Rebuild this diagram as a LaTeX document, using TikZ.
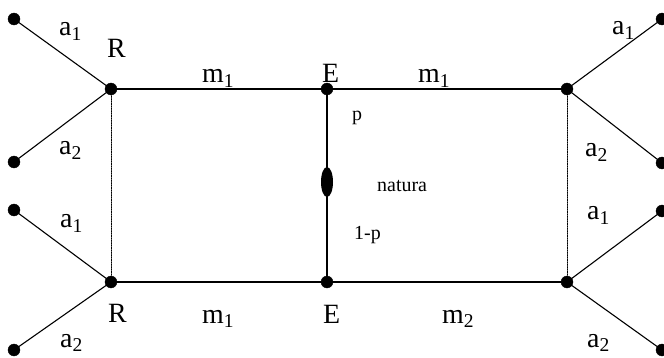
\documentclass[tikz,border=0pt]{standalone}
\usepackage{fontspec}
\setmainfont{Liberation Serif}
\usepackage{tikz}
\usepackage{tkz-euclide}

\begin{document}
\begin{tikzpicture}[x=10bp,y=10bp,
    big/.style={font=\fontsize{28}{28}\selectfont, anchor=base west, inner sep=0pt},
    small/.style={font=\fontsize{20}{20}\selectfont, anchor=base west, inner sep=0pt}]
            \useasboundingbox (0,0) rectangle (66.4,35.8);
            \tkzDefPoints{1.4/33.9/A1, 1.4/19.6/A2, 11.1/26.9/R1, 1.4/14.8/A3, 1.4/0.8/A4, 11.1/7.6/R2}
            \tkzDefPoints{32.7/26.9/E1, 32.7/7.6/E2, 32.7/17.6/N}
            \tkzDefPoints{56.7/26.9/S1, 56.7/7.6/S2, 66.2/33.9/B1, 66.2/19.5/B2, 66.2/14.7/B3, 66.2/0.8/B4}
            \tkzDrawSegments[black, line width=1.1bp](A1,R1 A2,R1 R1,E1 E1,S1 S1,B1 S1,B2)
            \tkzDrawSegments[black, line width=1.1bp](A3,R2 A4,R2 R2,E2 E2,S2 S2,B3 S2,B4 E1,E2)
            \tkzDrawSegments[black, line width=1bp, dash pattern=on 1.2bp off 1.2bp](R1,R2 S1,S2)
            \fill (N) ellipse [x radius=6bp, y radius=15bp];
            \tkzDrawPoints[fill=black, size=12](A1,A2,A3,A4,R1,R2,E1,E2,S1,S2,B1,B2,B3,B4)
            % players and moves
            \node[big] (la1) at (5.9,32.2) {a\textsubscript{1}};
            \node[big] (la2) at (5.9,20.3) {a\textsubscript{2}};
            \node[big] (la3) at (6.0,13.0) {a\textsubscript{1}};
            \node[big] (la4) at (6.0,1.1) {a\textsubscript{2}};
            \node[big] (lr1) at (10.7,30.0) {R};
            \node[big] (lr2) at (10.8,3.6) {R};
            \node[big] (lm1) at (20.2,27.5) {m\textsubscript{1}};
            \node[big] (le1) at (32.2,27.5) {E};
            \node[big] (lm2) at (41.8,27.5) {m\textsubscript{1}};
            \node[big] (lm3) at (20.2,3.5) {m\textsubscript{1}};
            \node[big] (le2) at (32.3,3.5) {E};
            \node[big] (lm4) at (44.2,3.5) {m\textsubscript{2}};
            \node[big] (lb1) at (61.2,32.3) {a\textsubscript{1}};
            \node[big] (lb2) at (58.5,20.1) {a\textsubscript{2}};
            \node[big] (lb3) at (58.7,13.8) {a\textsubscript{1}};
            \node[big] (lb4) at (58.7,1.1) {a\textsubscript{2}};
            % nature
            \node[small] (lp) at (35.2,23.7) {p};
            \node[small] (lnat) at (37.7,16.6) {natura};
            \node[small] (lq) at (35.4,11.8) {1-p};
\end{tikzpicture}
\end{document}
